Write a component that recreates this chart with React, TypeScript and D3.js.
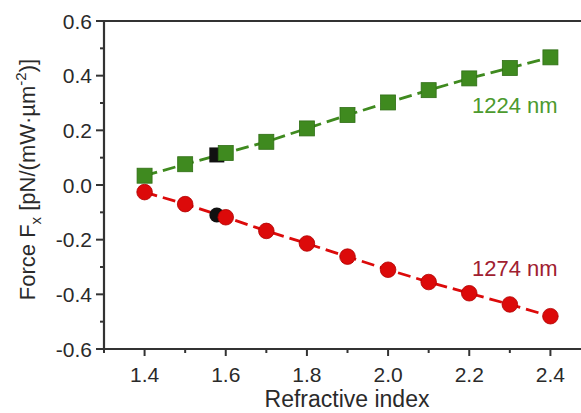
import React from 'react';
import * as d3 from 'd3';

// refractive index values
const indices = [1.4, 1.5, 1.6, 1.7, 1.8, 1.9, 2.0, 2.1, 2.2, 2.3, 2.4];
// force at 1224 nm (green squares)
const force1224 = [0.034, 0.076, 0.117, 0.158, 0.207, 0.256, 0.302, 0.347, 0.39, 0.428, 0.467];
// force at 1274 nm (red circles)
const force1274 = [-0.026, -0.07, -0.118, -0.168, -0.214, -0.262, -0.31, -0.355, -0.396, -0.437, -0.48];
// highlighted black points
const highlightX = [1.578];
const highlight1224 = [0.11];
const highlight1274 = [-0.11];

const yTicks = [-0.6, -0.4, -0.2, 0.0, 0.2, 0.4, 0.6];
const xTicks = [1.4, 1.6, 1.8, 2.0, 2.2, 2.4];

const W = 581;
const H = 413;
const font = '"Liberation Sans", Arial, sans-serif';

export default function App() {
  const x = d3.scaleLinear().domain([1.3, 2.5]).range([104, 591]);
  const y = d3.scaleLinear().domain([-0.6, 0.6]).range([349, 21]);

  const line = d3.line<number>()
    .x((_, i) => x(indices[i]))
    .y(d => y(d));

  const yMinor = d3.range(-0.5, 0.6, 0.2);
  const xMinor = d3.range(1.3, 2.5, 0.2);

  const green = '#3f8a1f';
  const red = '#dc0a0a';
  const sq = 15;

  return (
    <svg width={W} height={H} style={{ position: 'absolute', left: 0, top: 0 }} fontFamily={font}>
      <rect x={0} y={0} width={W} height={H} fill="#fff" />

      {/* frame */}
      <line x1={x(1.3)} x2={W} y1={y(0.6)} y2={y(0.6)} stroke="#333" strokeWidth={2.2} />
      <line x1={x(1.3)} x2={W} y1={y(-0.6)} y2={y(-0.6)} stroke="#333" strokeWidth={2.2} />
      <line x1={x(1.3)} x2={x(1.3)} y1={y(0.6)} y2={y(-0.6)} stroke="#333" strokeWidth={2.2} />

      {/* y ticks */}
      {yTicks.map(t => (
        <g key={'y' + t}>
          <line x1={x(1.3) - 8} x2={x(1.3)} y1={y(t)} y2={y(t)} stroke="#333" strokeWidth={2} />
          <text x={x(1.3) - 12} y={y(t)} dy="0.36em" textAnchor="end" fontSize={21} fill="#2a2a2a">
            {t.toFixed(1)}
          </text>
        </g>
      ))}
      {yMinor.map(t => (
        <line key={'ym' + t} x1={x(1.3) - 4} x2={x(1.3)} y1={y(t)} y2={y(t)} stroke="#333" strokeWidth={2} />
      ))}

      {/* x ticks */}
      {xTicks.map(t => (
        <g key={'x' + t}>
          <line x1={x(t)} x2={x(t)} y1={y(-0.6)} y2={y(-0.6) + 7} stroke="#333" strokeWidth={2} />
          <text x={x(t)} y={382} textAnchor="middle" fontSize={21} fill="#2a2a2a">
            {t.toFixed(1)}
          </text>
        </g>
      ))}
      {xMinor.map(t => (
        <line key={'xm' + t} x1={x(t)} x2={x(t)} y1={y(-0.6)} y2={y(-0.6) + 4} stroke="#333" strokeWidth={2} />
      ))}

      {/* axis titles */}
      <text x={347} y={407} textAnchor="middle" fontSize={23} fill="#2a2a2a">Refractive index</text>
      <text transform={`translate(35, ${y(0.02)}) rotate(-90)`} textAnchor="middle" fontSize={22} fill="#2a2a2a">
        Force F<tspan fontSize={15} dy={6}>x</tspan>
        <tspan dy={-6}> [pN/(mW·µm</tspan>
        <tspan fontSize={15} dy={-9}>-2</tspan>
        <tspan dy={9}>)]</tspan>
      </text>

      {/* lines */}
      <path d={line(force1224) || ''} fill="none" stroke={green} strokeWidth={2.8} strokeDasharray="13,6" />
      <path d={line(force1274) || ''} fill="none" stroke={red} strokeWidth={2.8} strokeDasharray="13,6" />

      {/* black highlight markers */}
      {highlightX.map((v, i) => (
        <g key={'h' + i}>
          <rect x={x(v) - sq / 2} y={y(highlight1224[i]) - sq / 2} width={sq} height={sq} fill="#111" />
          <circle cx={x(v)} cy={y(highlight1274[i])} r={7.5} fill="#111" />
        </g>
      ))}

      {/* markers */}
      {force1224.map((d, i) => (
        <rect key={'g' + i} x={x(indices[i]) - sq / 2} y={y(d) - sq / 2} width={sq} height={sq}
          fill={green} stroke="#2f6e14" strokeWidth={0.8} />
      ))}
      {force1274.map((d, i) => (
        <circle key={'r' + i} cx={x(indices[i])} cy={y(d)} r={7.8} fill={red} stroke="#b00000" strokeWidth={0.8} />
      ))}

      {/* series labels */}
      <text x={472} y={113} fontSize={22} fill="#4c9a2e">1224 nm</text>
      <text x={472} y={276} fontSize={22} fill="#a02030">1274 nm</text>
    </svg>
  );
}
